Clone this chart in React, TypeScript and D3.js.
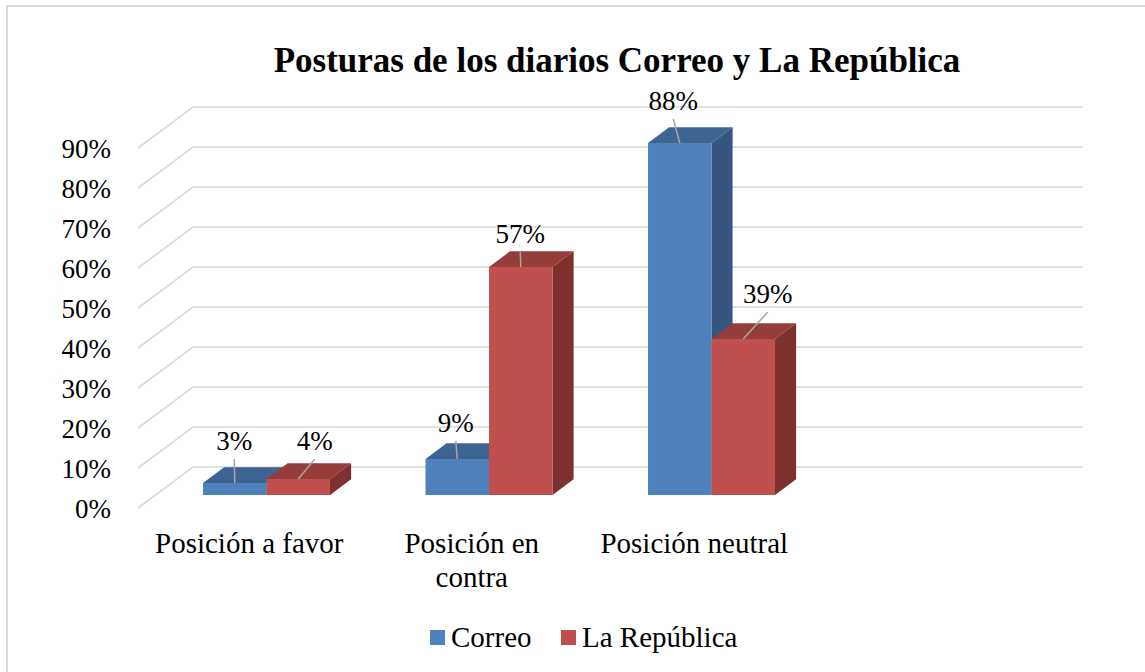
import React, { useEffect, useRef } from 'react';
import * as d3 from 'd3';

const categories = ['Posición a favor', 'Posición en contra', 'Posición neutral', ''];
const series = ['Correo', 'La República'];
const correo = [3, 9, 88];
const republica = [4, 57, 39];
const yTicks = [0, 10, 20, 30, 40, 50, 60, 70, 80, 90];

// label nudges (dx, dy) relative to bar front-top centre, as Excel placed them
const labelNudge = [
    [[-0.5, -33], [16.5, -29]],
    [[-1.5, -27], [-0.5, -24]],
    [[-6.5, -33], [24.5, -36]],
];

const colors = [
    { front: '#4f81bd', top: '#3d6492', side: '#34567f' },
    { front: '#c0504d', top: '#953d3b', side: '#7d302e' },
];

const FONT = '"Liberation Serif", "Times New Roman", serif';

export default function App() {
    const ref = useRef<SVGSVGElement>(null);

    useEffect(() => {
        const svg = d3.select(ref.current);
        svg.selectAll('*').remove();

        const width = 1145, height = 672;
        const depthX = 55, depthY = -41;
        const d0 = 0.317, d1 = 0.70;

        svg.append('rect')
            .attr('x', 7).attr('y', 6)
            .attr('width', width + 20).attr('height', height + 20)
            .attr('fill', '#fff').attr('stroke', '#d9d9d9').attr('stroke-width', 2);

        const x = d3.scaleBand().domain(categories.map((c, i) => String(i))).range([138, 1028]);
        const y = d3.scaleLinear().domain([0, 90]).range([508, 148]);

        const proj = (px: number, v: number, d: number): [number, number] => [px + depthX * d, y(v) + depthY * d];

        // gridlines: side wall + back wall
        const grid = svg.append('g');
        yTicks.forEach((t) => {
            const pts = [proj(138, t, 0), proj(138, t, 1), proj(1028, t, 1)];
            grid.append('path')
                .attr('d', d3.line()(pts))
                .attr('fill', 'none')
                .attr('stroke', '#d9d9d9')
                .attr('stroke-width', 1.6);
        });

        // y tick labels
        svg.append('g').selectAll('text')
            .data(yTicks).enter().append('text')
            .attr('x', 111)
            .attr('y', (d) => y(d) + 10)
            .attr('text-anchor', 'end')
            .attr('font-family', FONT)
            .attr('font-size', 27)
            .attr('fill', '#000')
            .text((d) => d + '%');

        const bw = x.bandwidth() * 0.2854;
        const inner = x.bandwidth() * 0.2139;
        const values = [correo, republica];
        const bars = svg.append('g');
        const labels: { cx: number; top: number; v: number; nx: number; ny: number }[] = [];

        for (let i = 0; i < correo.length; i++) {
            for (let j = 0; j < series.length; j++) {
                const v = values[j][i];
                const x0 = (x(String(i)) as number) + inner + j * bw;
                const x1 = x0 + bw;
                const c = colors[j];
                const poly = (pts: [number, number][]) => 'M' + pts.map((p) => p.join(',')).join('L') + 'Z';

                bars.append('path')
                    .attr('d', poly([proj(x1, 0, d0), proj(x1, v, d0), proj(x1, v, d1), proj(x1, 0, d1)]))
                    .attr('fill', c.side);
                bars.append('path')
                    .attr('d', poly([proj(x0, v, d0), proj(x1, v, d0), proj(x1, v, d1), proj(x0, v, d1)]))
                    .attr('fill', c.top);
                bars.append('path')
                    .attr('d', poly([proj(x0, 0, d0), proj(x1, 0, d0), proj(x1, v, d0), proj(x0, v, d0)]))
                    .attr('fill', c.front);

                const [fx, fy] = proj((x0 + x1) / 2, v, d0);
                labels.push({ cx: fx, top: fy, v, nx: labelNudge[i][j][0], ny: labelNudge[i][j][1] });
            }
        }

        // data labels with leader lines
        const lg = svg.append('g');
        labels.forEach((l) => {
            const lx = l.cx + l.nx;
            const ly = l.top + l.ny;
            lg.append('line')
                .attr('x1', lx).attr('y1', ly + 9)
                .attr('x2', l.cx).attr('y2', l.top)
                .attr('stroke', '#a6a6a6').attr('stroke-width', 1.5);
            lg.append('text')
                .attr('x', lx).attr('y', ly)
                .attr('text-anchor', 'middle')
                .attr('font-family', FONT)
                .attr('font-size', 27)
                .text(l.v + '%');
        });

        // category labels
        const catG = svg.append('g');
        categories.forEach((c, i) => {
            if (!c) return;
            const cx = (x(String(i)) as number) + x.bandwidth() / 2;
            const lines = c === 'Posición en contra' ? ['Posición en', 'contra'] : [c];
            const t = catG.append('text')
                .attr('text-anchor', 'middle')
                .attr('font-family', FONT)
                .attr('font-size', 29);
            lines.forEach((ln, k) => {
                t.append('tspan').attr('x', cx).attr('y', 553 + k * 34).text(ln);
            });
        });

        // title
        svg.append('text')
            .attr('x', 617).attr('y', 72)
            .attr('text-anchor', 'middle')
            .attr('font-family', FONT)
            .attr('font-weight', 'bold')
            .attr('font-size', 35)
            .text('Posturas de los diarios Correo y La República');

        // legend
        const legX = [430, 561];
        const leg = svg.append('g');
        series.forEach((s, j) => {
            leg.append('rect')
                .attr('x', legX[j]).attr('y', 630)
                .attr('width', 15).attr('height', 15)
                .attr('fill', colors[j].front);
            leg.append('text')
                .attr('x', legX[j] + 21).attr('y', 647)
                .attr('font-family', FONT)
                .attr('font-size', 29)
                .text(s);
        });
    }, []);

    return (
        <svg ref={ref} width={1145} height={672}
            style={{ position: 'absolute', left: 0, top: 0, background: '#fff' }} />
    );
}
